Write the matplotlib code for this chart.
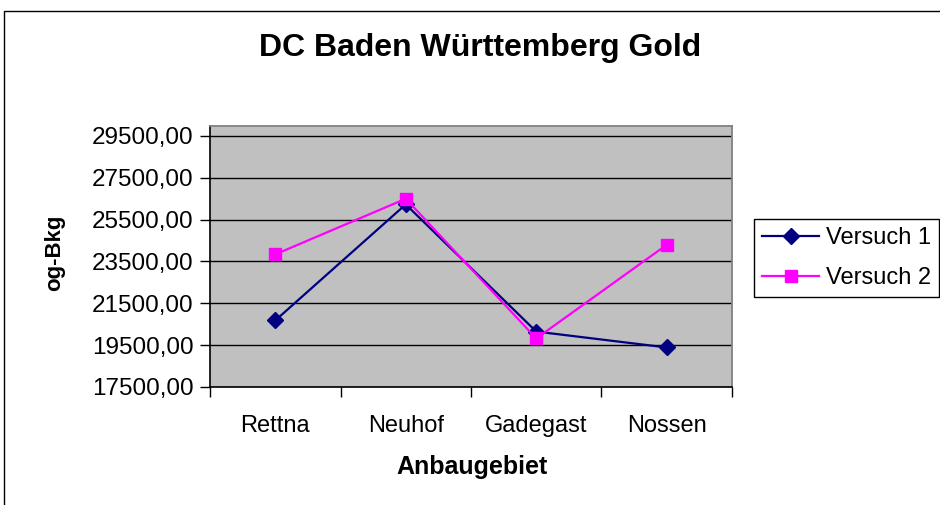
import matplotlib
matplotlib.use("Agg")
import matplotlib.pyplot as plt
from matplotlib.patches import Rectangle
from matplotlib.ticker import FuncFormatter, FixedLocator

plt.rcParams['font.family'] = ['Liberation Sans', 'DejaVu Sans']

title = "DC Baden Württemberg Gold"
categories = ["Rettna", "Neuhof", "Gadegast", "Nossen"]
versuch1 = [20680, 26230, 20150, 19390]
versuch2 = [23840, 26500, 19820, 24300]
yticks = [17500, 19500, 21500, 23500, 25500, 27500, 29500]
xlabel = "Anbaugebiet"
ylabel = "og-Bkg"

W, H = 940, 505
fig = plt.figure(figsize=(W / 100, H / 100), dpi=100)
fig.patch.set_facecolor("white")

# outer chart frame (cut off at right and bottom)
fig.patches.append(Rectangle((4 / W, -0.1), 1.2, 1 - 11 / H + 0.1, transform=fig.transFigure,
                             fill=False, edgecolor="black", linewidth=1.0))

left, right, top, bottom = 210, 732, 126, 387
ax = fig.add_axes([left / W, 1 - bottom / H, (right - left) / W, (bottom - top) / H])
ax.set_facecolor("#C0C0C0")

x = [i + 0.5 for i in range(len(categories))]
ax.plot(x, versuch1, color="#000080", marker="D", markersize=8, linewidth=1.6, label="Versuch 1", zorder=3)
ax.plot(x, versuch2, color="#FF00FF", marker="s", markersize=8.5, linewidth=1.6, label="Versuch 2", zorder=3)

ax.set_xlim(0, len(categories))
ax.set_ylim(17500, 29978)
ax.set_yticks(yticks)
ax.yaxis.set_major_formatter(FuncFormatter(lambda v, p: f"{v:.2f}".replace(".", ",")))
ax.yaxis.grid(True, color="black", linewidth=1.0)
ax.set_axisbelow(True)

ax.xaxis.set_major_locator(FixedLocator(list(range(len(categories) + 1))))
ax.xaxis.set_minor_locator(FixedLocator(x))
ax.set_xticklabels([], minor=False)
ax.set_xticklabels(categories, minor=True)
ax.tick_params(axis="x", which="major", length=7, direction="out", width=1, color="black")
ax.tick_params(axis="x", which="minor", length=0, labelsize=17, pad=20)
ax.tick_params(axis="y", length=7, direction="out", width=1, labelsize=17.5, pad=5)

for s in ["top", "right"]:
    ax.spines[s].set_color("#808080")
    ax.spines[s].set_linewidth(1.3)
for s in ["left", "bottom"]:
    ax.spines[s].set_color("black")
    ax.spines[s].set_linewidth(1.2)

fig.text(480 / W, 1 - 48 / H, title, ha="center", va="center", fontsize=23, fontweight="bold")
fig.text(472 / W, 1 - 467 / H, xlabel, ha="center", va="center", fontsize=18, fontweight="bold")
fig.text(55 / W, 1 - 253 / H, ylabel, ha="center", va="center", fontsize=16, fontweight="bold", rotation=90)

leg = fig.legend(loc="upper left", bbox_to_anchor=(754 / W, 1 - 219 / H), fontsize=17,
                 frameon=True, fancybox=False, edgecolor="black", framealpha=1,
                 handlelength=2.4, handletextpad=0.3, borderpad=0.35, labelspacing=0.75,
                 borderaxespad=0)
leg.get_frame().set_linewidth(1.0)

fig.savefig("out.png", dpi=100)
